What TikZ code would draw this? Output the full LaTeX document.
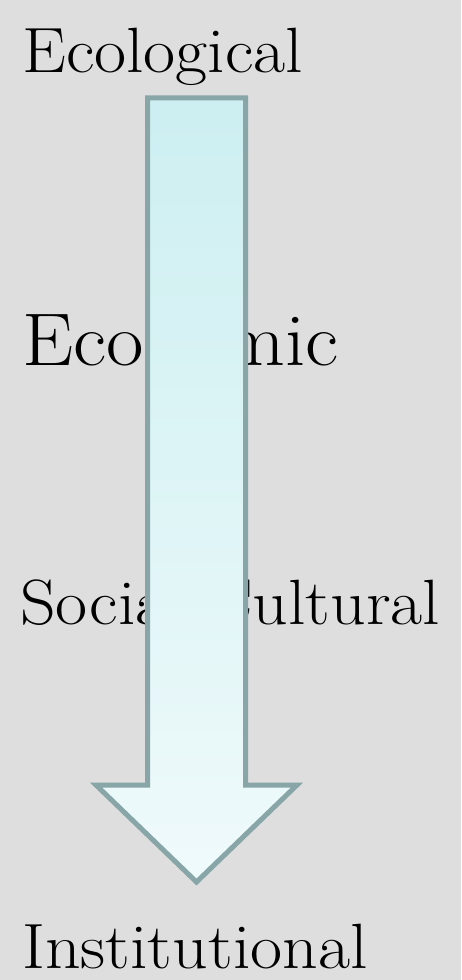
\documentclass[tikz,border=0pt]{standalone}
\usepackage{fontspec}
\setmainfont{Latin Modern Roman}[FakeStretch=1.09]
\definecolor{bggray}{HTML}{DEDEDE}
\definecolor{arrowline}{HTML}{88A5A7}
\definecolor{arrowtop}{HTML}{CDEFF1}
\definecolor{arrowbot}{HTML}{EFFAFB}
\tikzset{
  level/.style={anchor=base west, inner sep=0pt, font=\fontsize{48}{50}\selectfont},
  biglevel/.style={level, font=\fontsize{56}{58}\selectfont}
}
\begin{document}
\begin{tikzpicture}[x=0.75pt, y=-0.75pt]
      \fill[bggray] (0,0) rectangle (461,980);
      \useasboundingbox (0,0) rectangle (461,980);
      \draw
        (22,73) node[level] (eco){Ecological}
        (22,365) node[biglevel] (econ){Economic}
        (20,624) node[level] (soc){Social-Cultural}
        (22,968) node[level] (inst){Institutional};
      \begin{scope}[line width=3.75pt, line join=miter]
        \path[draw=arrowline, top color=arrowtop, bottom color=arrowbot]
          (147.5,98) -- (245.5,98) -- (245.5,785) -- (297,785)
          -- (196.5,882) -- (96,785) -- (147.5,785) -- cycle;
      \end{scope}
    \end{tikzpicture}
\end{document}
